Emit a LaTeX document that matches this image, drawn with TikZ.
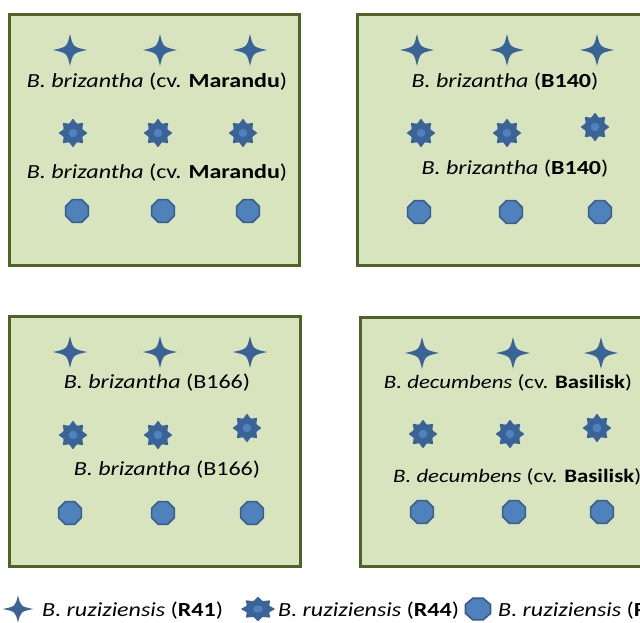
\documentclass[tikz,border=0pt]{standalone}
\usepackage{fontspec}
\setmainfont{Carlito}[FakeStretch=1.2]

\definecolor{plotfill}{HTML}{D7E4BD}
\definecolor{plotedge}{HTML}{4F6228}
\definecolor{starblue}{HTML}{3A6398}
\definecolor{ptblue}{HTML}{4F81BD}
\definecolor{ptedge}{HTML}{385D8A}

\tikzset{
  plotbox/.style={fill=plotfill, draw=plotedge, line width=3pt},
  lab/.style={inner sep=0pt, text=black, font=\fontsize{20}{24}\selectfont},
  smalllab/.style={lab, font=\fontsize{19}{23}\selectfont},
  % four-pointed star with concave sides
  fourstar/.pic={
    \fill[starblue] (0,-16) .. controls (3,-3) .. (17,0)
      .. controls (3,3) .. (0,16)
      .. controls (-3,3) .. (-17,0)
      .. controls (-3,-3) .. cycle;
  },
  % eight-pointed star with a lighter centre
  eightstar/.pic={
    \fill[starblue, rounded corners=0.8pt] (90:14.5)
      \foreach \k in {1,...,15} { -- ({90+\k*22.5}:{mod(\k,2)==1 ? 10 : 14.5}) } -- cycle;
    \fill[ptblue] (0,0) circle (4.3);
  },
  % flat-topped octagon
  octo/.pic={
    \filldraw[fill=ptblue, draw=ptedge, line width=1.6pt] (22.5:12.3)
      \foreach \k in {1,...,7} { -- ({22.5+45*\k}:12.3) } -- cycle;
  }
}

\begin{document}
\begin{tikzpicture}[x=1pt, y=-1pt]
\useasboundingbox (0,0) rectangle (640,622);
\clip (0,0) rectangle (640,622);
\fill[white] (0,0) rectangle (640,622);

% plots
\draw[plotbox] (9,14) rectangle (299,265);
\draw[plotbox] (357,14) rectangle (670,265);
\draw[plotbox] (9,316) rectangle (300,566);
\draw[plotbox] (360,317) rectangle (670,566);

% plot 1
\foreach \x in {70,160,250} \pic at (\x,50) {fourstar};
\pic at (73,133) {eightstar};
\pic at (158,133) {eightstar};
\pic at (243,133) {eightstar};
\foreach \x in {77,163,248} \pic at (\x,211) {octo};
\node[lab, anchor=base] (a1) at (157,87) {\textit{B. brizantha} (cv. \textbf{Marandu})};
\node[lab, anchor=base] (a2) at (157,178) {\textit{B. brizantha} (cv. \textbf{Marandu})};

% plot 2
\foreach \x in {417,507,597} \pic at (\x,50) {fourstar};
\pic at (421,133) {eightstar};
\pic at (507,133) {eightstar};
\pic at (595,127) {eightstar};
\foreach \x in {419,511,600} \pic at (\x,212) {octo};
\node[lab, anchor=base] (b1) at (505,87) {\textit{B. brizantha} (\textbf{B140})};
\node[lab, anchor=base] (b2) at (515,174) {\textit{B. brizantha} (\textbf{B140})};

% plot 3
\foreach \x in {70,160,250} \pic at (\x,352) {fourstar};
\pic at (73,435) {eightstar};
\pic at (158,435) {eightstar};
\pic at (247,428) {eightstar};
\foreach \x in {70,163,252} \pic at (\x,513) {octo};
\node[lab, anchor=base] (c1) at (157,388) {\textit{B. brizantha} (B166)};
\node[lab, anchor=base] (c2) at (167,475) {\textit{B. brizantha} (B166)};

% plot 4
\foreach \x in {422,513,601} \pic at (\x,353) {fourstar};
\pic at (423,434) {eightstar};
\pic at (510,434) {eightstar};
\pic at (597,428) {eightstar};
\foreach \x in {422,514,602} \pic at (\x,512) {octo};
\node[smalllab, anchor=base] (d1) at (508,388) {\textit{B. decumbens} (cv. \textbf{Basilisk})};
\node[smalllab, anchor=base west] (d2) at (393,482) {\textit{B. decumbens} (cv. \textbf{Basilisk})};

% legend
\pic[xscale=0.9, yscale=0.85] at (18,609) {fourstar};
\node[lab, anchor=base west] (k1) at (42,616) {\textit{B. ruziziensis} (\textbf{R41})};
\pic[xscale=1.2, yscale=0.85] at (258,609) {eightstar};
\node[lab, anchor=base west] (k2) at (278,616) {\textit{B. ruziziensis} (\textbf{R44})};
\pic[xscale=1.1, yscale=0.95] at (478,609) {octo};
\node[lab, anchor=base west] (k3) at (498,616) {\textit{B. ruziziensis} (\textbf{R}};
\end{tikzpicture}
\end{document}
